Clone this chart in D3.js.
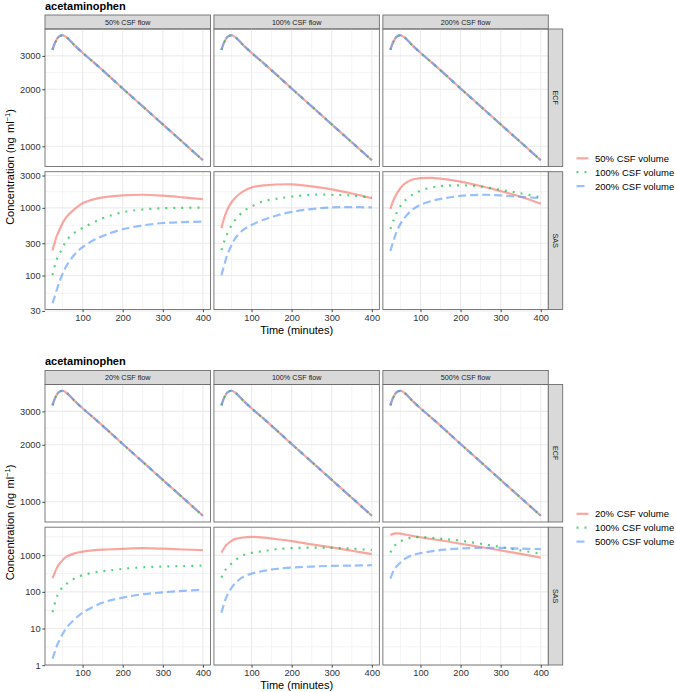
<!DOCTYPE html>
<html lang="en">
<head>
<meta charset="utf-8">
<title>acetaminophen: ECF and SAS concentration</title>
<script src="https://d3js.org/d3.v7.min.js"></script>
<style>
  body { margin: 0; background: #fff; }
  svg { display: block; font-family: "Liberation Sans", Arial, sans-serif; }
</style>
</head>
<body>
<script>

// sampling times (minutes), shared by every curve
var times = [25, 30, 35, 40, 50, 60, 80, 100, 130, 160, 200, 250, 300, 350, 400];

// ECF concentration is the same for every flow / volume combination
var ecf = [3228, 3470, 3646, 3776, 3855, 3760, 3410, 3115, 2745, 2410, 2018, 1624, 1305, 1050, 844];

// upper figure: columns are CSF flow, series are CSF volume
var topFlows = ["50% CSF flow", "100% CSF flow", "200% CSF flow"];
var topVolumes = ["50% CSF volume", "100% CSF volume", "200% CSF volume"];
var topSasFlow50 = [
    [235, 300, 375, 440, 590, 735, 960, 1170, 1345, 1450, 1527, 1560, 1510, 1430, 1346],
    [102, 135, 171, 198, 255, 330, 430, 505, 620, 735, 860, 946, 985, 1000, 1010],
    [39, 48, 60, 74, 106, 140, 205, 262, 340, 405, 483, 550, 597, 615, 628]
];
var topSasFlow100 = [
    [499, 650, 800, 950, 1200, 1420, 1765, 2000, 2140, 2210, 2220, 2080, 1870, 1630, 1394],
    [238, 295, 360, 420, 550, 670, 890, 1049, 1250, 1355, 1460, 1560, 1560, 1520, 1420],
    [101, 130, 165, 205, 280, 360, 475, 559, 665, 765, 870, 960, 1013, 1024, 1013]
];
var topSasFlow200 = [
    [966, 1180, 1400, 1580, 1950, 2260, 2615, 2750, 2762, 2650, 2440, 2100, 1765, 1455, 1146],
    [488, 590, 700, 830, 1060, 1260, 1570, 1790, 2015, 2115, 2150, 2070, 1840, 1640, 1430],
    [230, 290, 360, 435, 580, 710, 940, 1109, 1275, 1385, 1500, 1560, 1525, 1450, 1394]
];
var topSasTicks = [30, 100, 300, 1000, 3000];

// lower figure
var bottomFlows = ["20% CSF flow", "100% CSF flow", "500% CSF flow"];
var bottomVolumes = ["20% CSF volume", "100% CSF volume", "500% CSF volume"];
var bottomSasFlow20 = [
    [235, 320, 430, 540, 730, 916, 1120, 1254, 1370, 1430, 1490, 1550, 1500, 1430, 1370],
    [28, 45, 70, 92, 133, 165, 232, 285, 340, 375, 423, 468, 490, 505, 522],
    [1.5, 2.2, 3.2, 4.3, 7.0, 10.5, 18, 27, 41, 55, 69.5, 86, 97, 106, 114]
];
var bottomSasFlow100 = [
    [1178, 1450, 1760, 2020, 2460, 2780, 3040, 3160, 3020, 2760, 2430, 1970, 1630, 1320, 1065],
    [244, 320, 400, 460, 590, 740, 1000, 1155, 1290, 1450, 1555, 1614, 1585, 1510, 1380],
    [27, 42, 62, 84, 128, 176, 258, 314, 372, 420, 460, 490, 510, 520, 533]
];
var bottomSasFlow500 = [
    [3516, 3750, 3870, 3910, 3890, 3700, 3350, 3080, 2725, 2440, 2050, 1670, 1350, 1090, 859],
    [1178, 1480, 1800, 2000, 2340, 2680, 3030, 3105, 2965, 2750, 2480, 2050, 1670, 1350, 1090],
    [230, 320, 420, 490, 630, 780, 1005, 1135, 1290, 1415, 1520, 1585, 1585, 1510, 1458]
];
var bottomSasTicks = [1, 10, 100, 1000];

var ecfTicks = [1000, 2000, 3000];
var xTicks = [100, 200, 300, 400];
var xMinor = [50, 150, 250, 350];

var colors = ["#F8766D", "#00BA38", "#619CFF"];
var dashes = [null, "2,6", "8,4"];

var svg = d3.select("body").append("svg")
    .attr("width", 676)
    .attr("height", 692);

// panel layout
var left = 45, right = 548.3, gapX = 3.5;
var pw = (right - left - 2 * gapX) / 3;
var borderColor = "#6E6E6E";

function expandLog(values) {
    var lo = Math.log10(d3.min(values)), hi = Math.log10(d3.max(values));
    var pad = (hi - lo) * 0.05;
    return [Math.pow(10, lo - pad), Math.pow(10, hi + pad)];
}

// ggplot style minor breaks: midpoints between log breaks
function minorBreaks(ticks, domain) {
    var b = ticks.map(function(d) { return Math.log10(d); });
    var bd = b[1] - b[0];
    var ext = [b[0] - bd].concat(b, [b[b.length - 1] + bd]);
    var out = [];
    for (var i = 0; i < ext.length - 1; i++) {
        var m = Math.pow(10, (ext[i] + ext[i + 1]) / 2);
        if (m > domain[0] && m < domain[1]) out.push(m);
    }
    return out;
}

var xDomain = [25 - 375 * 0.05, 400 + 375 * 0.05];

function drawPanel(g, x0, y0, h, yDomain, yTicks, series, showY, showX) {
    var x = d3.scaleLinear().domain(xDomain).range([x0, x0 + pw]);
    var y = d3.scaleLog().domain(yDomain).range([y0 + h, y0]);

    // minor grid
    g.selectAll(null).data(xMinor).enter().append("line")
        .attr("x1", x).attr("x2", x).attr("y1", y0).attr("y2", y0 + h)
        .attr("stroke", "#EBEBEB").attr("stroke-width", 0.55);
    g.selectAll(null).data(minorBreaks(yTicks, yDomain)).enter().append("line")
        .attr("y1", y).attr("y2", y).attr("x1", x0).attr("x2", x0 + pw)
        .attr("stroke", "#EBEBEB").attr("stroke-width", 0.55);
    // major grid
    g.selectAll(null).data(xTicks).enter().append("line")
        .attr("x1", x).attr("x2", x).attr("y1", y0).attr("y2", y0 + h)
        .attr("stroke", "#EBEBEB").attr("stroke-width", 1.1);
    g.selectAll(null).data(yTicks).enter().append("line")
        .attr("y1", y).attr("y2", y).attr("x1", x0).attr("x2", x0 + pw)
        .attr("stroke", "#EBEBEB").attr("stroke-width", 1.1);

    var line = d3.line()
        .x(function(d, i) { return x(times[i]); })
        .y(function(d) { return y(d); })
        .curve(d3.curveCatmullRom.alpha(0.5));

    series.forEach(function(s, i) {
        g.append("path")
            .attr("d", line(s))
            .attr("fill", "none")
            .attr("stroke", colors[i])
            .attr("stroke-opacity", 0.65)
            .attr("stroke-width", 2.2)
            .attr("stroke-dasharray", dashes[i]);
    });

    g.append("rect")
        .attr("x", x0).attr("y", y0).attr("width", pw).attr("height", h)
        .attr("fill", "none").attr("stroke", borderColor).attr("stroke-width", 0.9);

    if (showY) {
        var ay = g.append("g")
            .attr("transform", "translate(" + x0 + ",0)")
            .call(d3.axisLeft(y).tickValues(yTicks).tickFormat(d3.format("d")).tickSize(2.7).tickPadding(1.6));
        styleAxis(ay);
    }
    if (showX) {
        var ax = g.append("g")
            .attr("transform", "translate(0," + (y0 + h) + ")")
            .call(d3.axisBottom(x).tickValues(xTicks).tickSize(2.7).tickPadding(1.8));
        styleAxis(ax);
    }
}

function styleAxis(a) {
    a.select(".domain").remove();
    a.selectAll(".tick line").attr("stroke", "#333333").attr("stroke-width", 0.9);
    a.selectAll(".tick text")
        .attr("fill", "#333333")
        .style("font-size", "9.3px")
        .style("font-family", "'Liberation Sans', Arial, sans-serif");
}

function drawFigure(oy, flows, volumes, sasPanels, sasTicks) {
    var g = svg.append("g");
    var ecfY0 = oy + 29, ecfH = 137.5;
    var sasY0 = oy + 171.7, sasH = 137.8;

    var ecfDomain = expandLog(ecf);
    var sasDomain = expandLog(d3.merge(sasPanels.map(function(p) { return d3.merge(p); })));

    g.append("text")
        .attr("x", left).attr("y", oy + 9.6)
        .style("font-size", "11px").style("font-weight", "bold")
        .text("acetaminophen");

    flows.forEach(function(f, c) {
        var x0 = left + c * (pw + gapX);
        // strip on top
        g.append("rect")
            .attr("x", x0).attr("y", oy + 15).attr("width", pw).attr("height", 14)
            .attr("fill", "#D9D9D9").attr("stroke", borderColor).attr("stroke-width", 0.9);
        g.append("text")
            .attr("x", x0 + pw / 2).attr("y", oy + 24.6)
            .attr("text-anchor", "middle")
            .attr("fill", "#1A1A1A")
            .style("font-size", "7.2px")
            .text(f);

        drawPanel(g, x0, ecfY0, ecfH, ecfDomain, ecfTicks, [ecf, ecf, ecf], c === 0, false);
        drawPanel(g, x0, sasY0, sasH, sasDomain, sasTicks, sasPanels[c], c === 0, true);
    });

    // right strips
    [["ECF", ecfY0, ecfH], ["SAS", sasY0, sasH]].forEach(function(r) {
        g.append("rect")
            .attr("x", right).attr("y", r[1]).attr("width", 14.4).attr("height", r[2])
            .attr("fill", "#D9D9D9").attr("stroke", borderColor).attr("stroke-width", 0.9);
        g.append("text")
            .attr("transform", "translate(" + (right + 7.2) + "," + (r[1] + r[2] / 2) + ") rotate(90)")
            .attr("text-anchor", "middle")
            .attr("dy", "0.35em")
            .attr("fill", "#1A1A1A")
            .style("font-size", "7.2px")
            .text(r[0]);
    });

    // axis titles
    g.append("text")
        .attr("x", (left + right) / 2).attr("y", sasY0 + sasH + 24)
        .attr("text-anchor", "middle")
        .style("font-size", "11px")
        .text("Time (minutes)");

    var yt = g.append("text")
        .attr("transform", "translate(13.5," + (oy + 167) + ") rotate(-90)")
        .attr("text-anchor", "middle")
        .style("font-size", "11px");
    yt.append("tspan").text("Concentration (ng\u2009\u2009ml");
    yt.append("tspan").attr("dy", -4).style("font-size", "7.5px").text("\u22121");
    yt.append("tspan").attr("dy", 4).text(")");

    // legend
    var ly = oy + 158.3;
    volumes.forEach(function(v, i) {
        var yy = ly + i * 13.9;
        g.append("line")
            .attr("x1", 576.5).attr("x2", 588.5).attr("y1", yy).attr("y2", yy)
            .attr("stroke", colors[i]).attr("stroke-opacity", 0.65)
            .attr("stroke-width", 2.2)
            .attr("stroke-dasharray", dashes[i]);
        g.append("text")
            .attr("x", 595).attr("y", yy + 3.4)
            .style("font-size", "9.5px")
            .text(v);
    });
}

drawFigure(0, topFlows, topVolumes, [topSasFlow50, topSasFlow100, topSasFlow200], topSasTicks);
drawFigure(355.5, bottomFlows, bottomVolumes, [bottomSasFlow20, bottomSasFlow100, bottomSasFlow500], bottomSasTicks);

</script>
</body>
</html>
